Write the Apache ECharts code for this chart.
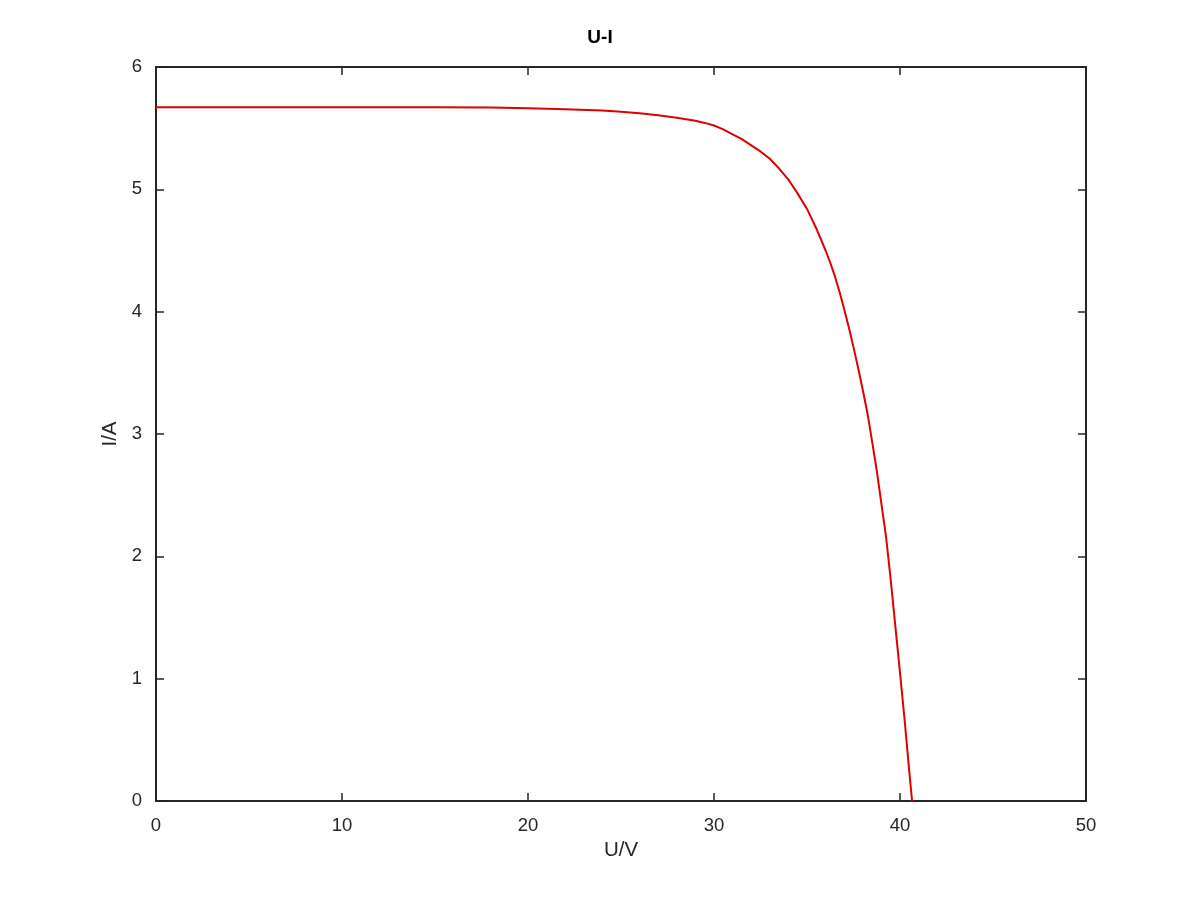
<!DOCTYPE html>
<html>
<head>
<meta charset="utf-8">
<script src="https://cdn.jsdelivr.net/npm/echarts@6/dist/echarts.min.js"></script>
<style>html,body{margin:0;padding:0;background:#fff;}#c{width:1200px;height:900px;}</style>
</head>
<body>
<div id="c"></div>
<script>
const voltage = [0, 5, 10, 15, 18, 20, 22, 24, 25, 26, 27, 28, 29, 29.5, 30, 30.5, 31, 31.5, 32, 32.5, 33, 33.5, 34, 34.5, 35, 35.5, 36, 36.25, 36.5, 36.75, 37, 37.25, 37.5, 37.75, 38, 38.25, 38.5, 38.75, 39, 39.25, 39.5, 39.75, 40, 40.25, 40.5, 40.65];
const current = [5.67, 5.67, 5.67, 5.67, 5.668, 5.662, 5.655, 5.645, 5.635, 5.622, 5.605, 5.585, 5.56, 5.543, 5.522, 5.49, 5.45, 5.41, 5.36, 5.31, 5.25, 5.17, 5.08, 4.965, 4.84, 4.68, 4.50, 4.40, 4.29, 4.16, 4.02, 3.87, 3.71, 3.54, 3.36, 3.17, 2.94, 2.70, 2.43, 2.16, 1.81, 1.43, 1.05, 0.66, 0.24, 0];
const xTicks = [0, 10, 20, 30, 40, 50];
const yTicks = [0, 1, 2, 3, 4, 5, 6];

const axisColor = '#262626';
const font = 'Liberation Sans, Arial, sans-serif';
const points = voltage.map((u, i) => [u, current[i]]);

const chart = echarts.init(document.getElementById('c'), null, {renderer: 'canvas'});
const baseAxis = {
  type: 'value',
  axisLine: {show: true, onZero: false, lineStyle: {color: axisColor, width: 2}},
  axisTick: {show: true, inside: true, length: 8, lineStyle: {color: axisColor, width: 1.5}},
  splitLine: {show: false},
};
chart.setOption({
  animation: false,
  backgroundColor: '#fff',
  title: {
    text: 'U-I', left: 'center', top: 23,
    textStyle: {fontFamily: font, fontSize: 19, fontWeight: 'bold', color: '#000'}
  },
  grid: {left: 156, right: 114, top: 67, bottom: 99, containLabel: false},
  xAxis: [
    Object.assign({}, baseAxis, {
      position: 'bottom', min: 0, max: 50, interval: 10,
      name: 'U/V', nameLocation: 'middle', nameGap: 39,
      nameTextStyle: {fontFamily: font, fontSize: 20.5, color: axisColor},
      axisLabel: {show: true, margin: 15, fontFamily: font, fontSize: 18.5, color: axisColor,
        formatter: v => xTicks.includes(v) ? String(v) : ''}
    }),
    Object.assign({}, baseAxis, {
      position: 'top', min: 0, max: 50, interval: 10, axisLabel: {show: false}
    })
  ],
  yAxis: [
    Object.assign({}, baseAxis, {
      position: 'left', min: 0, max: 6, interval: 1,
      name: 'I/A', nameLocation: 'middle', nameGap: 31, nameRotate: 90,
      nameTextStyle: {fontFamily: font, fontSize: 20.5, color: axisColor},
      axisLabel: {show: true, margin: 14, fontFamily: font, fontSize: 18.5, color: axisColor,
        formatter: v => yTicks.includes(v) ? String(v) : ''}
    }),
    Object.assign({}, baseAxis, {
      position: 'right', min: 0, max: 6, interval: 1, axisLabel: {show: false}
    })
  ],
  series: [{
    type: 'line',
    data: points,
    xAxisIndex: 0, yAxisIndex: 0,
    showSymbol: false,
    smooth: false,
    lineStyle: {color: '#e00000', width: 2},
    clip: true
  }]
});
</script>
</body>
</html>
